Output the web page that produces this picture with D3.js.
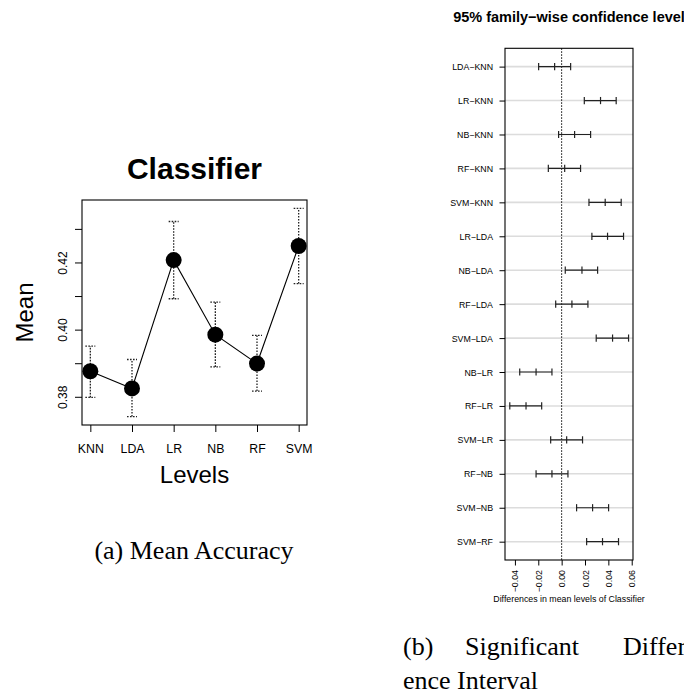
<!DOCTYPE html>
<html>
<head>
<meta charset="utf-8">
<script src="https://cdn.jsdelivr.net/npm/d3@7"></script>
<style>
  html, body { margin: 0; padding: 0; background: #fff; }
  svg { display: block; }
  text { font-family: "Liberation Sans", Arial, Helvetica, sans-serif; fill: #000; }
  .cap { font-family: "Liberation Serif", "Times New Roman", serif; }
</style>
</head>
<body>
<svg id="fig" width="684" height="695"></svg>
<script>
// ---- Mean accuracy per classifier (with confidence bars) ----
const levels = ["KNN", "LDA", "LR", "NB", "RF", "SVM"];
const meanAcc = [0.3876, 0.3825, 0.4207, 0.3985, 0.3899, 0.4249];
const meanLow = [0.3798, 0.3741, 0.4092, 0.3889, 0.3817, 0.4137];
const meanHigh = [0.3951, 0.3911, 0.4322, 0.4082, 0.3983, 0.4361];
const meanTicks = [0.38, 0.39, 0.40, 0.41, 0.42, 0.43];
const meanTickLabels = ["0.38", "", "0.40", "", "0.42", ""];

// ---- Tukey pairwise differences ----
const pairs = ["LDA\u2212KNN", "LR\u2212KNN", "NB\u2212KNN", "RF\u2212KNN", "SVM\u2212KNN",
               "LR\u2212LDA", "NB\u2212LDA", "RF\u2212LDA", "SVM\u2212LDA", "NB\u2212LR",
               "RF\u2212LR", "SVM\u2212LR", "RF\u2212NB", "SVM\u2212NB", "SVM\u2212RF"];
const diffMid = [-0.0060, 0.0333, 0.0111, 0.0026, 0.0373, 0.0393, 0.0174, 0.0088, 0.0436, -0.0219,
                 -0.0305, 0.0043, -0.0083, 0.0265, 0.0350];
const diffLwr = [-0.0197, 0.0194, -0.0026, -0.0114, 0.0234, 0.0259, 0.0031, -0.0051, 0.0296, -0.0359,
                 -0.0444, -0.0094, -0.0219, 0.0128, 0.0214];
const diffUpr = [0.0077, 0.0467, 0.0248, 0.0162, 0.0510, 0.0530, 0.0308, 0.0225, 0.0573, -0.0083,
                 -0.0171, 0.0179, 0.0054, 0.0402, 0.0487];
const diffTicks = [-0.04, -0.02, 0.00, 0.02, 0.04, 0.06];
const diffTickLabels = ["\u22120.04", "\u22120.02", "0.00", "0.02", "0.04", "0.06"];

const svg = d3.select("#fig");

// ================= Left panel: means plot =================
{
  const L = 82, R = 307, T = 200, B = 425;
  const x = d3.scaleLinear().domain([0.8, 6.2]).range([L, R]);
  const y = d3.scaleLinear().domain([0.3716, 0.4386]).range([B, T]);
  const g = svg.append("g");

  // y axis (labels rotated, every other tick labelled)
  const yAx = g.append("g").attr("transform", `translate(${L},0)`)
    .call(d3.axisLeft(y).tickValues(meanTicks).tickSize(7)
      .tickFormat((d, i) => meanTickLabels[i]));
  yAx.select(".domain").remove();
  yAx.selectAll("line").attr("stroke", "#000");
  yAx.selectAll("text")
    .attr("transform", "rotate(-90)")
    .attr("x", 0).attr("y", -15).attr("dy", 0)
    .attr("text-anchor", "middle")
    .style("font-size", "12px").style("font-family", "Liberation Sans, Arial, sans-serif");

  // x axis with classifier names
  const xAx = g.append("g").attr("transform", `translate(0,${B})`)
    .call(d3.axisBottom(x).tickValues(d3.range(1, levels.length + 1)).tickSize(7)
      .tickFormat(d => levels[d - 1]));
  xAx.select(".domain").remove();
  xAx.selectAll("line").attr("stroke", "#000");
  xAx.selectAll("text").attr("y", 28).attr("dy", 0)
    .style("font-size", "12.3px").style("font-family", "Liberation Sans, Arial, sans-serif");

  // frame
  g.append("rect").attr("x", L).attr("y", T).attr("width", R - L).attr("height", B - T)
    .attr("fill", "none").attr("stroke", "#000").attr("stroke-width", 1.1);

  // dotted confidence bars
  const bars = g.append("g").attr("stroke", "#222").attr("stroke-width", 1.3)
    .attr("stroke-dasharray", "1.6,1.4").attr("fill", "none");
  levels.forEach((lv, i) => {
    const cx = x(i + 1);
    bars.append("line").attr("x1", cx).attr("x2", cx).attr("y1", y(meanLow[i])).attr("y2", y(meanHigh[i]));
    bars.append("line").attr("x1", cx - 5).attr("x2", cx + 5).attr("y1", y(meanLow[i])).attr("y2", y(meanLow[i]));
    bars.append("line").attr("x1", cx - 5).attr("x2", cx + 5).attr("y1", y(meanHigh[i])).attr("y2", y(meanHigh[i]));
  });

  // line joining the means
  g.append("path")
    .attr("d", d3.line().x((d, i) => x(i + 1)).y(d => y(d))(meanAcc))
    .attr("fill", "none").attr("stroke", "#000").attr("stroke-width", 1.1);

  g.selectAll("circle.m").data(meanAcc).join("circle")
    .attr("cx", (d, i) => x(i + 1)).attr("cy", d => y(d)).attr("r", 8).attr("fill", "#000");

  // titles
  g.append("text").attr("x", (L + R) / 2).attr("y", 179)
    .attr("text-anchor", "middle").style("font-size", "30px").style("font-weight", "bold")
    .text("Classifier");
  g.append("text").attr("transform", `translate(33,${(T + B) / 2}) rotate(-90)`)
    .attr("text-anchor", "middle").style("font-size", "24px").text("Mean");
  g.append("text").attr("x", (L + R) / 2).attr("y", 483)
    .attr("text-anchor", "middle").style("font-size", "24px").text("Levels");
}

// ================= Right panel: Tukey HSD intervals =================
{
  const L = 505, R = 633, T = 48.3, B = 560;
  const x = d3.scaleLinear().domain([-0.0485, 0.0611]).range([L, R]);
  const y = d3.scaleLinear().domain([0.46, pairs.length + 0.54]).range([T, B]);
  const g = svg.append("g");

  // light row guides
  g.append("g").selectAll("line").data(pairs).join("line")
    .attr("x1", L).attr("x2", R)
    .attr("y1", (d, i) => y(i + 1)).attr("y2", (d, i) => y(i + 1))
    .attr("stroke", "#dcdcdc").attr("stroke-width", 1.6);

  // zero reference
  g.append("line").attr("x1", x(0)).attr("x2", x(0)).attr("y1", T).attr("y2", B)
    .attr("stroke", "#000").attr("stroke-width", 1).attr("stroke-dasharray", "1.5,1.5");

  // intervals
  const iv = g.append("g").attr("stroke", "#222").attr("stroke-width", 1.2);
  pairs.forEach((p, i) => {
    const cy = y(i + 1);
    iv.append("line").attr("x1", x(diffLwr[i])).attr("x2", x(diffUpr[i])).attr("y1", cy).attr("y2", cy);
    [diffLwr[i], diffMid[i], diffUpr[i]].forEach(v => {
      iv.append("line").attr("x1", x(v)).attr("x2", x(v)).attr("y1", cy - 3.6).attr("y2", cy + 3.6);
    });
  });

  // y axis: comparison names
  const yAx = g.append("g").attr("transform", `translate(${L},0)`)
    .call(d3.axisLeft(y).tickValues(d3.range(1, pairs.length + 1)).tickSize(5.5)
      .tickFormat(d => pairs[d - 1]));
  yAx.select(".domain").remove();
  yAx.selectAll("line").attr("stroke", "#000");
  yAx.selectAll("text").attr("x", -12).attr("dy", "0.34em")
    .style("font-size", "8.8px").style("font-family", "Liberation Sans, Arial, sans-serif");

  // x axis: differences (rotated labels)
  const xAx = g.append("g").attr("transform", `translate(0,${B})`)
    .call(d3.axisBottom(x).tickValues(diffTicks).tickSize(5.5)
      .tickFormat((d, i) => diffTickLabels[i]));
  xAx.select(".domain").remove();
  xAx.selectAll("line").attr("stroke", "#000");
  xAx.selectAll("text")
    .attr("transform", "rotate(-90)")
    .attr("x", -10).attr("y", 0).attr("dy", "0.34em")
    .attr("text-anchor", "end")
    .style("font-size", "8.8px").style("font-family", "Liberation Sans, Arial, sans-serif");

  // frame
  g.append("rect").attr("x", L).attr("y", T).attr("width", R - L).attr("height", B - T)
    .attr("fill", "none").attr("stroke", "#000").attr("stroke-width", 1.1);

  g.append("text").attr("x", (L + R) / 2).attr("y", 602)
    .attr("text-anchor", "middle").style("font-size", "8.8px")
    .text("Differences in mean levels of Classifier");
  g.append("text").attr("x", (L + R) / 2).attr("y", 22)
    .attr("text-anchor", "middle").style("font-size", "14.5px").style("font-weight", "bold")
    .text("95% family\u2212wise confidence level");
}

// ================= Sub-figure captions =================
svg.append("text").attr("class", "cap").attr("x", 194).attr("y", 559)
  .attr("text-anchor", "middle").style("font-size", "26px")
  .text("(a) Mean Accuracy");
svg.append("text").attr("class", "cap").attr("x", 403).attr("y", 655)
  .style("font-size", "26px").text("(b)");
svg.append("text").attr("class", "cap").attr("x", 465).attr("y", 655)
  .style("font-size", "26px").text("Significant");
svg.append("text").attr("class", "cap").attr("x", 623).attr("y", 655)
  .style("font-size", "26px").text("Differ-");
svg.append("text").attr("class", "cap").attr("x", 403).attr("y", 689)
  .style("font-size", "26px").text("ence Interval");
</script>
</body>
</html>
